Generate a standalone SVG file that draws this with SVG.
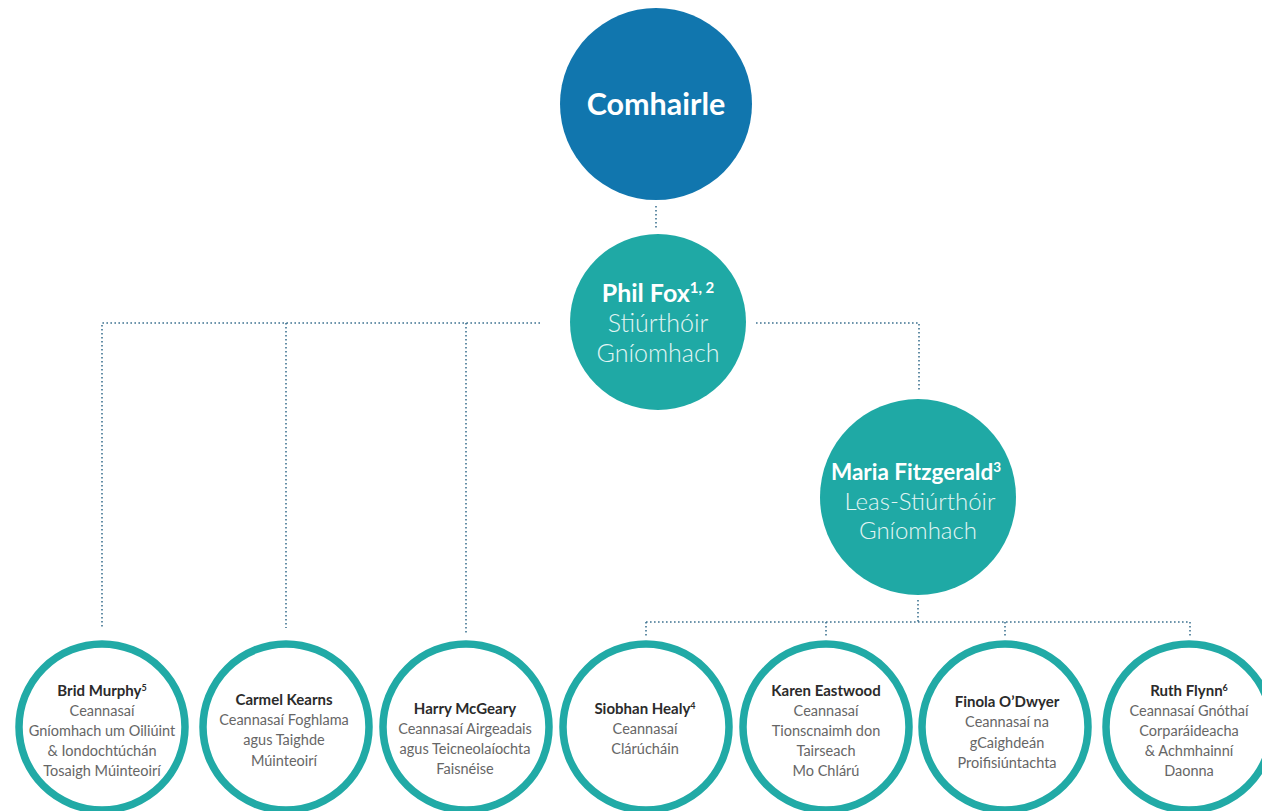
<svg xmlns="http://www.w3.org/2000/svg" width="1262" height="811" viewBox="0 0 1262 811">
<style>
.conn{fill:none;stroke:#3f7391;stroke-width:1.6;stroke-dasharray:1.6 2.4}
.big{font-family:Lato,"Liberation Sans",sans-serif;text-anchor:middle}
.bn{font-weight:700;fill:#fff}
.bs{font-weight:300;fill:#e3f5f4}
.ring{fill:#fff;stroke:#21aaa6;stroke-width:7.5}
.sm{font-family:Lato,"Liberation Sans",sans-serif;text-anchor:middle;font-size:14.5px}
.nm{font-weight:700;fill:#2b2b2b;font-size:15px}
.ds{font-weight:400;fill:#666;}
.sup{font-size:60%}
</style>
<rect width="1262" height="811" fill="#fff"/>
<g id="connectors">
<path class="conn" d="M656 206V228"/>
<path class="conn" d="M540 323H102V628M286 323V628M466 323V634"/>
<path class="conn" d="M756 323H919V392"/>
<path class="conn" d="M918 600V622M646 622H1190M646 622V638M826 622V638M1005 622V638M1190 622V638"/>
</g>
<g id="comhairle">
<circle cx="656" cy="104" r="96" fill="#1176ae"/>
<text class="big" x="656" y="115" font-size="30.5" font-weight="700" fill="#fff">Comhairle</text>
</g>
<g id="phil-fox">
<circle cx="658" cy="322" r="88" fill="#1fa9a5"/>
<text class="big bn" x="658" y="302" font-size="25">Phil Fox<tspan class="sup" dy="-9">1, 2</tspan></text>
<text class="big bs" x="658" y="332" font-size="25">Stiúrthóir</text>
<text class="big bs" x="658" y="362" font-size="25">Gníomhach</text>
</g>
<g id="maria-fitzgerald">
<circle cx="918" cy="497" r="98" fill="#1fa9a5"/>
<text class="big bn" x="916" y="480" font-size="22.5">Maria Fitzgerald<tspan class="sup" dy="-8">3</tspan></text>
<text class="big bs" x="920" y="510" font-size="24">Leas-Stiúrthóir</text>
<text class="big bs" x="918" y="539" font-size="24">Gníomhach</text>
</g>
<g id="brid-murphy">
<circle class="ring" cx="102" cy="727" r="83"/>
<text class="sm nm" x="102" y="696">Brid Murphy<tspan class="sup" dy="-5">5</tspan></text>
<text class="sm ds" x="102" y="716">Ceannasaí</text>
<text class="sm ds" x="102" y="736">Gníomhach um Oiliúint</text>
<text class="sm ds" x="102" y="756">&amp; Iondochtúchán</text>
<text class="sm ds" x="102" y="776">Tosaigh Múinteoirí</text>
</g>
<g id="carmel-kearns">
<circle class="ring" cx="286" cy="727" r="83"/>
<text class="sm nm" x="284" y="705">Carmel Kearns</text>
<text class="sm ds" x="284" y="725">Ceannasaí Foghlama</text>
<text class="sm ds" x="284" y="745">agus Taighde</text>
<text class="sm ds" x="284" y="766">Múinteoirí</text>
</g>
<g id="harry-mcgeary">
<circle class="ring" cx="466" cy="727" r="83"/>
<text class="sm nm" x="465" y="714">Harry McGeary</text>
<text class="sm ds" x="465" y="734">Ceannasaí Airgeadais</text>
<text class="sm ds" x="465" y="754">agus Teicneolaíochta</text>
<text class="sm ds" x="465" y="774">Faisnéise</text>
</g>
<g id="siobhan-healy">
<circle class="ring" cx="646" cy="727" r="83"/>
<text class="sm nm" x="645" y="714">Siobhan Healy<tspan class="sup" dy="-5">4</tspan></text>
<text class="sm ds" x="645" y="734">Ceannasaí</text>
<text class="sm ds" x="645" y="754">Clárúcháin</text>
</g>
<g id="karen-eastwood">
<circle class="ring" cx="826" cy="727" r="83"/>
<text class="sm nm" x="826" y="696">Karen Eastwood</text>
<text class="sm ds" x="826" y="716">Ceannasaí</text>
<text class="sm ds" x="826" y="736">Tionscnaimh don</text>
<text class="sm ds" x="826" y="756">Tairseach</text>
<text class="sm ds" x="826" y="776">Mo Chlárú</text>
</g>
<g id="finola-odwyer">
<circle class="ring" cx="1005" cy="727" r="83"/>
<text class="sm nm" x="1007" y="707">Finola O’Dwyer</text>
<text class="sm ds" x="1007" y="727">Ceannasaí na</text>
<text class="sm ds" x="1007" y="748">gCaighdeán</text>
<text class="sm ds" x="1007" y="768">Proifisiúntachta</text>
</g>
<g id="ruth-flynn">
<circle class="ring" cx="1189" cy="727" r="83"/>
<text class="sm nm" x="1189" y="696">Ruth Flynn<tspan class="sup" dy="-5">6</tspan></text>
<text class="sm ds" x="1189" y="716">Ceannasaí Gnóthaí</text>
<text class="sm ds" x="1189" y="736">Corparáideacha</text>
<text class="sm ds" x="1189" y="756">&amp; Achmhainní</text>
<text class="sm ds" x="1189" y="776">Daonna</text>
</g>
</svg>
